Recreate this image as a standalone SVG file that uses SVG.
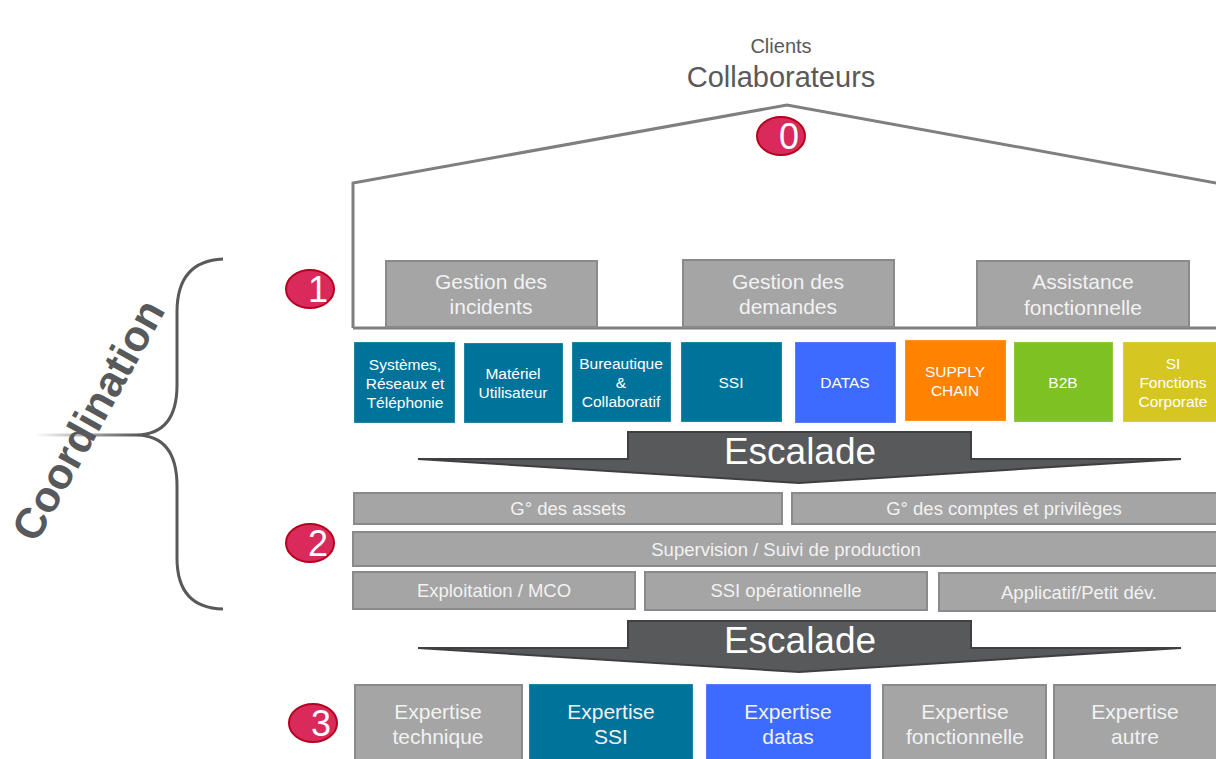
<svg xmlns="http://www.w3.org/2000/svg" width="1216" height="759" viewBox="0 0 1216 759">
<defs>
<style>
text{font-family:"Liberation Sans",Arial,sans-serif;text-anchor:middle}
.g{fill:#A5A5A5;stroke:#8A8A8A;stroke-width:2}
.w{fill:#F2F2F2}
.tile{stroke:#FFFFFF;stroke-opacity:0.25;stroke-width:1}
.t16{font-size:15.5px;fill:#FFFFFF}
.t21{font-size:21px}
.t18{font-size:18.5px}
.badge{fill:#DA2A5C;stroke:#B5001E;stroke-width:2}
.bn{font-size:36px;fill:#FFFFFF}
.esc{fill:#58595B;stroke:#3F3F41;stroke-width:2;stroke-linejoin:miter}
.esct{font-size:37px;fill:#FFFFFF}
</style>
<linearGradient id="fade" x1="0" y1="0" x2="1" y2="0">
<stop offset="0" stop-color="#58595B" stop-opacity="0"/>
<stop offset="1" stop-color="#58595B" stop-opacity="1"/>
</linearGradient>
</defs>
<rect width="1216" height="759" fill="#FFFFFF"/>

<g id="top-labels">
<text x="781" y="53" font-size="20" fill="#595959">Clients</text>
<text x="781" y="87" font-size="29" fill="#595959">Collaborateurs</text>
</g>

<g id="connectors">
<polyline points="353,328 353,183 787,105 1222,184" fill="none" stroke="#7F7F7F" stroke-width="3"/>
<line x1="353" y1="328" x2="1216" y2="328" stroke="#7F7F7F" stroke-width="3"/>
<path d="M223,259 Q177,261 177,312 L177,385 Q177,434 137,435 Q177,436 177,486 L177,558 Q177,608 223,609" fill="none" stroke="#58595B" stroke-width="3"/>
<rect x="35" y="433.5" width="102" height="3" fill="url(#fade)"/>
<polygon class="esc" points="628,432 971,432 971,459 1181,459 799,483 418,459 628,459"/>
<polygon class="esc" points="628,621 971,621 971,648 1181,648 799,672 418,648 628,648"/>
</g>

<g id="coordination">
<text transform="translate(88,420) rotate(-61)" x="0" y="15" font-size="43" font-weight="bold" fill="#58595B">Coordination</text>
</g>

<g id="badge-0"><ellipse class="badge" cx="781" cy="136" rx="24" ry="19"/><text class="bn" x="789" y="149">0</text></g>
<g id="badge-1"><ellipse class="badge" cx="310" cy="289" rx="24" ry="19"/><text class="bn" x="318" y="302">1</text></g>
<g id="badge-2"><ellipse class="badge" cx="310" cy="543" rx="24" ry="19"/><text class="bn" x="318" y="556">2</text></g>
<g id="badge-3"><ellipse class="badge" cx="313" cy="723" rx="24" ry="19"/><text class="bn" x="321" y="736">3</text></g>

<g id="gestion-incidents"><rect class="g" x="386" y="261" width="211" height="66"/><text class="w t21" x="491" y="289">Gestion des</text><text class="w t21" x="491" y="314">incidents</text></g>
<g id="gestion-demandes"><rect class="g" x="683" y="260" width="211" height="67"/><text class="w t21" x="788" y="289">Gestion des</text><text class="w t21" x="788" y="314">demandes</text></g>
<g id="assistance"><rect class="g" x="977" y="261" width="212" height="66"/><text class="w t21" x="1083" y="289">Assistance</text><text class="w t21" x="1083" y="315">fonctionnelle</text></g>

<g id="tile-systemes"><rect class="tile" x="354" y="342" width="101" height="81" fill="#00739A"/><text class="t16" x="405" y="370">Systèmes,</text><text class="t16" x="405" y="389">Réseaux et</text><text class="t16" x="405" y="408">Téléphonie</text></g>
<g id="tile-materiel"><rect class="tile" x="464" y="343" width="99" height="80" fill="#00739A"/><text class="t16" x="513" y="379">Matériel</text><text class="t16" x="513" y="398">Utilisateur</text></g>
<g id="tile-bureautique"><rect class="tile" x="572" y="342" width="99" height="80" fill="#00739A"/><text class="t16" x="621" y="369">Bureautique</text><text class="t16" x="621" y="388">&amp;</text><text class="t16" x="621" y="407">Collaboratif</text></g>
<g id="tile-ssi"><rect class="tile" x="681" y="342" width="101" height="80" fill="#00739A"/><text class="t16" x="731" y="388">SSI</text></g>
<g id="tile-datas"><rect class="tile" x="795" y="342" width="101" height="81" fill="#3D6BFF"/><text class="t16" x="845" y="388">DATAS</text></g>
<g id="tile-supply"><rect class="tile" x="905" y="340" width="101" height="81" fill="#FF8200"/><text class="t16" x="955" y="377">SUPPLY</text><text class="t16" x="955" y="396">CHAIN</text></g>
<g id="tile-b2b"><rect class="tile" x="1014" y="342" width="99" height="80" fill="#7DC122"/><text class="t16" x="1063" y="388">B2B</text></g>
<g id="tile-si"><rect class="tile" x="1123" y="342" width="99" height="80" fill="#D5C622"/><text class="t16" x="1173" y="369">SI</text><text class="t16" x="1173" y="388">Fonctions</text><text class="t16" x="1173" y="407">Corporate</text></g>

<g id="escalade-1-label"><text class="esct" x="800" y="464">Escalade</text></g>

<g id="assets"><rect class="g" x="354" y="493" width="428" height="31"/><text class="w t18" x="568" y="515">G° des assets</text></g>
<g id="comptes"><rect class="g" x="792" y="493" width="430" height="31"/><text class="w t18" x="1004" y="515">G° des comptes et privilèges</text></g>
<g id="supervision"><rect class="g" x="353" y="532" width="869" height="34"/><text class="w t18" x="786" y="556">Supervision / Suivi de production</text></g>
<g id="exploitation"><rect class="g" x="353" y="572" width="282" height="37"/><text class="w t18" x="494" y="597">Exploitation / MCO</text></g>
<g id="ssi-op"><rect class="g" x="645" y="572" width="282" height="38"/><text class="w t18" x="786" y="597">SSI opérationnelle</text></g>
<g id="applicatif"><rect class="g" x="939" y="573" width="283" height="38"/><text class="w t18" x="1079" y="599">Applicatif/Petit dév.</text></g>

<g id="escalade-2-label"><text class="esct" x="800" y="653">Escalade</text></g>

<g id="exp-technique"><rect class="g" x="355" y="685" width="167" height="80"/><text class="w t21" x="438" y="719">Expertise</text><text class="w t21" x="438" y="744">technique</text></g>
<g id="exp-ssi"><rect class="tile" x="529" y="684" width="164" height="80" fill="#00739A"/><text class="w t21" x="611" y="719">Expertise</text><text class="w t21" x="611" y="744">SSI</text></g>
<g id="exp-datas"><rect class="tile" x="706" y="684" width="165" height="80" fill="#3D6BFF"/><text class="w t21" x="788" y="719">Expertise</text><text class="w t21" x="788" y="744">datas</text></g>
<g id="exp-fonctionnelle"><rect class="g" x="883" y="685" width="163" height="80"/><text class="w t21" x="965" y="719">Expertise</text><text class="w t21" x="965" y="744">fonctionnelle</text></g>
<g id="exp-autre"><rect class="g" x="1054" y="685" width="170" height="80"/><text class="w t21" x="1135" y="719">Expertise</text><text class="w t21" x="1135" y="744">autre</text></g>
</svg>
